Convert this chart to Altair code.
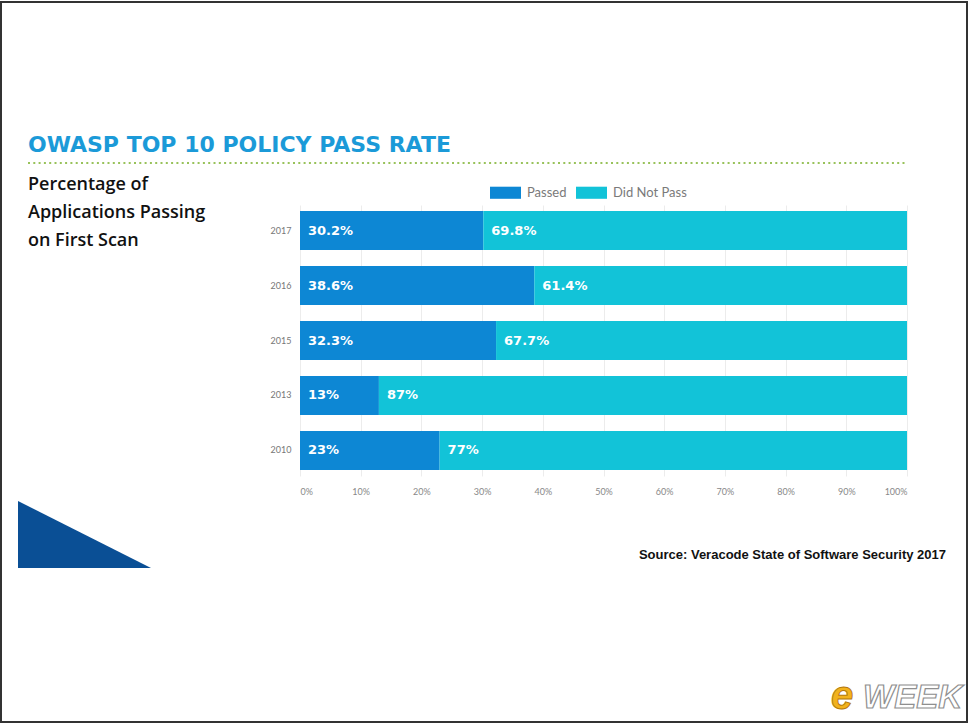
import altair as alt
import pandas as pd

# Survey years (top to bottom) and share of applications per outcome, in percent
years = ["2017", "2016", "2015", "2013", "2010"]
passed = [30.2, 38.6, 32.3, 13, 23]
did_not_pass = [69.8, 61.4, 67.7, 87, 77]
statuses = ["Passed", "Did Not Pass"]
status_colors = ["#0d87d4", "#12c3d8"]
tick_values = [0, 10, 20, 30, 40, 50, 60, 70, 80, 90, 100]

rows = []
for i, yr in enumerate(years):
    for k, (name, val) in enumerate(zip(statuses, [passed[i], did_not_pass[i]])):
        label = f"{val:g}%"
        rows.append({"Year": yr, "Status": name, "order": k, "value": val, "label": label})
df = pd.DataFrame(rows)

# Plot area origin sits at (300, 205) on the page
W, H = 607, 271

base = alt.Chart(df).transform_stack(
    stack="value", groupby=["Year"], sort=[alt.SortField("order")], as_=["x0", "x1"]
)

y_enc = alt.Y(
    "Year:N",
    sort=years,
    scale=alt.Scale(paddingInner=0.29, paddingOuter=0.11),
    axis=alt.Axis(
        title=None, ticks=False, domain=False, labelPadding=9,
        labelFont="Lato", labelFontSize=9, labelColor="#777777", grid=False,
    ),
)

bars = base.mark_bar().encode(
    x=alt.X(
        "x0:Q",
        scale=alt.Scale(domain=[0, 100], nice=False),
        axis=alt.Axis(
            title=None, values=tick_values, labelExpr="datum.value + '%'",
            ticks=False, domain=False, labelPadding=11,
            labelFont="Lato", labelFontSize=9, labelColor="#888888",
            grid=True, gridColor="#ececec", gridWidth=1,
        ),
    ),
    x2="x1:Q",
    y=y_enc,
    color=alt.Color(
        "Status:N",
        sort=statuses,
        scale=alt.Scale(domain=statuses, range=status_colors),
        legend=alt.Legend(
            title=None, orient="none", legendX=190, legendY=-28, direction="horizontal",
            symbolType="M-1,-0.39H1V0.39H-1Z", symbolSize=961, symbolStrokeWidth=0,
            labelFont="Lato", labelFontSize=13, labelColor="#7a7a7a",
            columnPadding=9, labelOffset=6,
        ),
    ),
)

labels = base.mark_text(
    align="left", baseline="middle", dx=8, color="white",
    font="DejaVu Sans", fontWeight="bold", fontSize=13,
).encode(x="x0:Q", y=alt.Y("Year:N", sort=years), text="label:N")

# Page furniture placed relative to the plot origin
def txt(text, x, y, **kw):
    return alt.Chart(pd.DataFrame({"t": [text]})).mark_text(**kw).encode(
        x=alt.value(x), y=alt.value(y), text="t:N"
    )

title = txt("OWASP TOP 10 POLICY PASS RATE", -272, -53, align="left", baseline="alphabetic",
            font="DejaVu Sans", fontWeight="bold", fontSize=22, color="#1b9ad8")

subtitle = alt.layer(*[
    txt(line, -272, yy, align="left", baseline="alphabetic",
        font="Open Sans", fontWeight=600, fontSize=18, color="#111111")
    for line, yy in zip(["Percentage of", "Applications Passing", "on First Scan"], [-15, 13, 41])
])

dots = alt.Chart(pd.DataFrame({"a": [0]})).mark_rule(
    color="#98c25a", strokeWidth=2, strokeDash=[2, 3.3]
).encode(x=alt.value(-272), x2=alt.value(605), y=alt.value(-42))

triangle = alt.Chart(pd.DataFrame({"a": [0]})).mark_point(
    shape="M0,0L133,67L0,67Z", size=4, filled=True, color="#0a4f95", opacity=1
).encode(x=alt.value(-282), y=alt.value(296))

source = txt("Source: Veracode State of Software Security 2017", 646, 354,
             align="right", baseline="alphabetic", font="Liberation Sans",
             fontWeight="bold", fontSize=13, color="#111111")

logo_week = txt("WEEK", 563, 503, align="left", baseline="alphabetic",
                font="Liberation Sans", fontWeight="bold", fontStyle="italic",
                fontSize=33, color="#ffffff", stroke="#8f8f8f", strokeWidth=1.2)
logo_e = txt("e", 531, 504, align="left", baseline="alphabetic",
             font="Liberation Sans", fontWeight="bold", fontStyle="italic",
             fontSize=40, color="#f2b21c", stroke="#b57a0a", strokeWidth=1)

border = alt.Chart(pd.DataFrame({"a": [0]})).mark_rect(
    fill="transparent", stroke="#333333", strokeWidth=2
).encode(x=alt.value(-299), x2=alt.value(667), y=alt.value(-203), y2=alt.value(517))

chart = alt.layer(
    bars, labels, title, subtitle, dots, triangle, source,
    logo_week, logo_e, border
).properties(
    width=W, height=H,
    padding={"left": 300, "top": 205, "right": 63, "bottom": 249},
    autosize="none",
    background="white",
).configure_view(stroke=None)

chart.save("out.html", embed_options={"renderer": "svg", "actions": False})
